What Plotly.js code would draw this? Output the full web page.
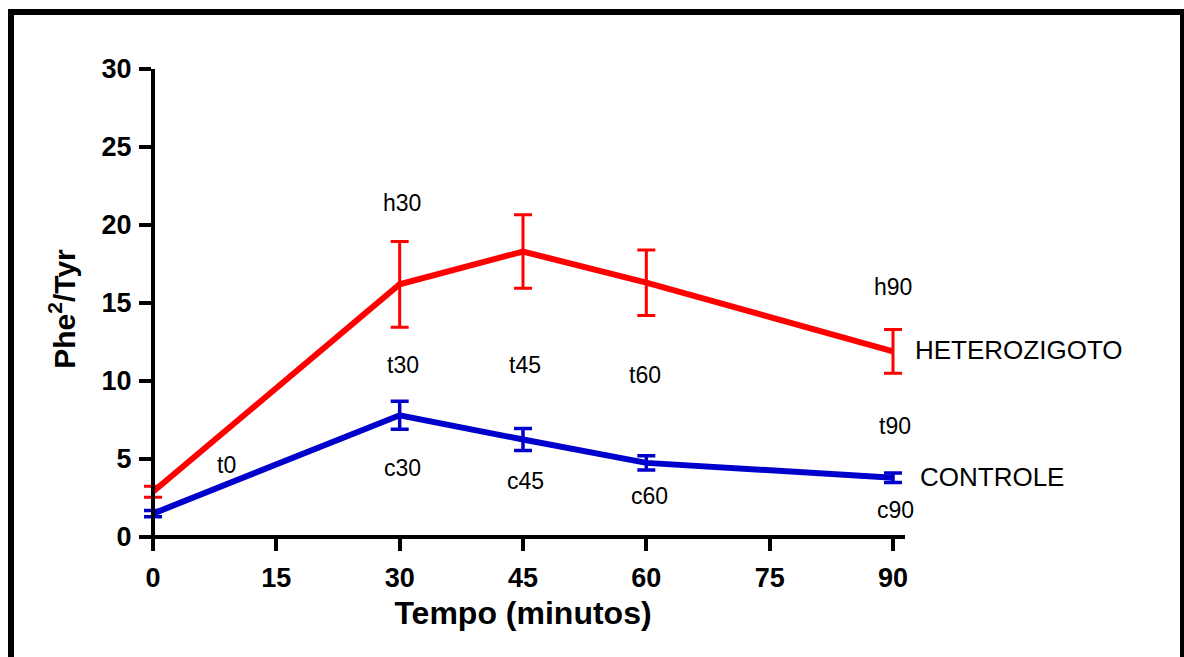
<!DOCTYPE html>
<html>
<head>
<meta charset="utf-8">
<script src="https://cdn.plot.ly/plotly-3.0.1.min.js"></script>
<style>html,body{margin:0;padding:0;background:#fff;}#chart{width:1184px;height:657px;}</style>
</head>
<body>
<div id="chart"></div>
<script>
const timeMinutes = [0, 30, 45, 60, 90];
const heterozigotoMean = [2.9, 16.2, 18.3, 16.3, 11.9];
const heterozigotoErr = [0.35, 2.75, 2.35, 2.1, 1.4];
const controleMean = [1.5, 7.8, 6.25, 4.75, 3.8];
const controleErr = [0.2, 0.9, 0.7, 0.45, 0.3];

const xTickVals = [0, 15, 30, 45, 60, 75, 90];
const yTickVals = [0, 5, 10, 15, 20, 25, 30];

const pointLabels = ['t0', 'h30', 't30', 'c30', 't45', 'c45', 't60', 'c60', 'h90', 't90', 'c90'];
const pointLabelX = [8.9, 30.3, 30.4, 30.3, 45.3, 45.3, 59.8, 60.4, 90.0, 90.2, 90.3];
const pointLabelY = [4.6, 21.4, 11.0, 4.45, 11.0, 3.6, 10.4, 2.6, 16.0, 7.1, 1.75];

const seriesNames = ['HETEROZIGOTO', 'CONTROLE'];
const seriesLabelX = [92.4, 93.0];
const seriesLabelY = [12.0, 3.85];

const RED = '#ff0000';
const BLUE = '#0000cc';

// axis ranges: small overhang so the axis lines pass a bit beyond 0 / 90 like the original
const xRange = [-1.46, 91.46];
const yRange = [-0.77, 30];
function xFrac(v) { return (v - xRange[0]) / (xRange[1] - xRange[0]); }
function yFrac(v) { return (v - yRange[0]) / (yRange[1] - yRange[0]); }

const traces = [
  {
    x: timeMinutes, y: heterozigotoMean, type: 'scatter', mode: 'lines',
    name: seriesNames[0], cliponaxis: false,
    line: {color: RED, width: 6},
    error_y: {type: 'data', array: heterozigotoErr, visible: true, color: RED, thickness: 3, width: 9}
  },
  {
    x: timeMinutes, y: controleMean, type: 'scatter', mode: 'lines',
    name: seriesNames[1], cliponaxis: false,
    line: {color: BLUE, width: 6},
    error_y: {type: 'data', array: controleErr, visible: true, color: BLUE, thickness: 3.5, width: 9}
  }
];

const labelFont = {family: 'Liberation Sans, Arial, sans-serif', size: 23, color: '#000'};
const annotations = [];
pointLabels.forEach((t, i) => {
  annotations.push({x: pointLabelX[i], y: pointLabelY[i], xref: 'x', yref: 'y', text: t,
    showarrow: false, font: labelFont});
});
seriesNames.forEach((t, i) => {
  annotations.push({x: xFrac(seriesLabelX[i]), y: yFrac(seriesLabelY[i]), xref: 'paper', yref: 'paper', text: t,
    xanchor: 'left', yanchor: 'middle', showarrow: false,
    font: {family: 'Liberation Sans, Arial, sans-serif', size: 26, color: '#000'}});
});

// frame around the figure (pixel -> paper, plot area 141..905 x 69..549)
function px2paperX(px) { return (px - 141) / 764; }
function px2paperY(py) { return (549 - py) / 480; }
const shapes = [
  {type: 'line', xref: 'paper', yref: 'paper', x0: px2paperX(11), x1: px2paperX(11), y0: px2paperY(9), y1: px2paperY(660), line: {color: '#000', width: 6}},
  {type: 'line', xref: 'paper', yref: 'paper', x0: px2paperX(8), x1: px2paperX(1184), y0: px2paperY(12), y1: px2paperY(12), line: {color: '#000', width: 6}},
  {type: 'line', xref: 'paper', yref: 'paper', x0: px2paperX(1182), x1: px2paperX(1182), y0: px2paperY(9), y1: px2paperY(660), line: {color: '#000', width: 4}}
];

const tickFont = {family: 'Liberation Sans, Arial, sans-serif', size: 27, color: '#000', weight: 'bold'};
const xTitleFont = {family: 'Liberation Sans, Arial, sans-serif', size: 32, color: '#000', weight: 'bold'};
const yTitleFont = {family: 'Liberation Sans, Arial, sans-serif', size: 30, color: '#000', weight: 'bold'};

const layout = {
  width: 1184, height: 657,
  margin: {l: 141, r: 279, t: 69, b: 108, pad: 0},
  paper_bgcolor: '#fff', plot_bgcolor: '#fff',
  showlegend: false,
  xaxis: {
    range: xRange, tickvals: xTickVals, ticktext: xTickVals.map(String),
    anchor: 'free', position: yFrac(0),
    showgrid: false, zeroline: false, showline: true, linecolor: '#000', linewidth: 4,
    ticks: 'outside', ticklen: 12, tickwidth: 4, tickcolor: '#000',
    tickfont: tickFont, ticklabelstandoff: 4,
    title: {text: 'Tempo (minutos)', font: xTitleFont, standoff: 8}
  },
  yaxis: {
    range: yRange, tickvals: yTickVals, ticktext: yTickVals.map(String),
    anchor: 'free', position: xFrac(0),
    showgrid: false, zeroline: false, showline: true, linecolor: '#000', linewidth: 4,
    ticks: 'outside', ticklen: 12, tickwidth: 4, tickcolor: '#000',
    tickfont: tickFont, ticklabelstandoff: 2,
    title: {text: 'Phe<sup>2</sup>/Tyr', font: yTitleFont, standoff: 16}
  },
  annotations: annotations,
  shapes: shapes
};

Plotly.newPlot('chart', traces, layout, {displayModeBar: false, staticPlot: true});
</script>
</body>
</html>
